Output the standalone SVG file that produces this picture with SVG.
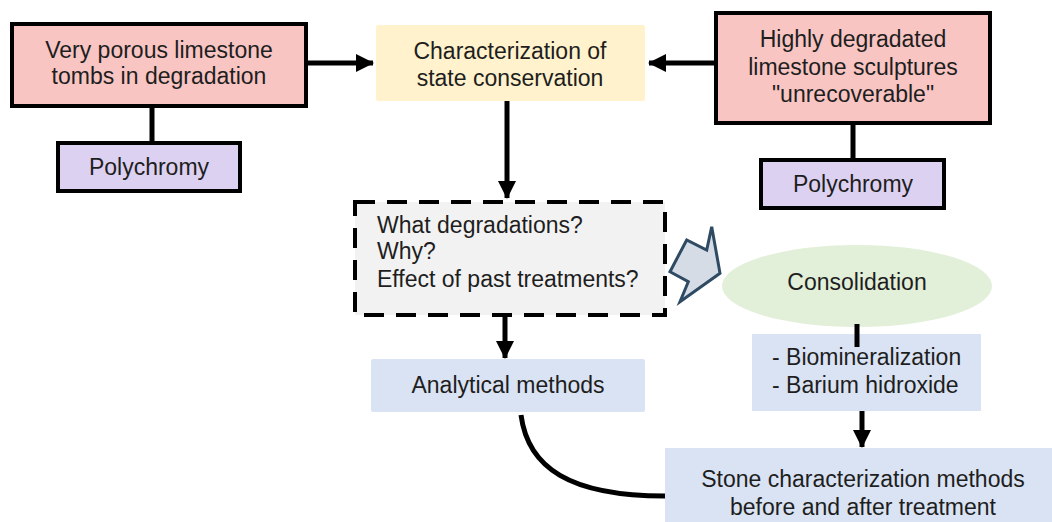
<svg xmlns="http://www.w3.org/2000/svg" width="1052" height="522" viewBox="0 0 1052 522">
<style>
text{font-family:"Liberation Sans",Arial,sans-serif;font-size:23px;fill:#1e1e1e}
.c{text-anchor:middle}
.red{fill:#f8c5c3;stroke:#000;stroke-width:4}
.pur{fill:#ddd1f1;stroke:#000;stroke-width:4}
.blue{fill:#dae3f3}
.ln{stroke:#000;stroke-width:5;fill:none}
</style>
<defs>
<marker id="ah" viewBox="0 0 18 18" refX="17" refY="9" markerWidth="18" markerHeight="18" markerUnits="userSpaceOnUse" orient="auto">
<path d="M0,0 L18,9 L0,18 Z" fill="#000"/>
</marker>
</defs>
<g id="connectors">
<line class="ln" x1="152" y1="106" x2="152" y2="143"/>
<line class="ln" x1="853" y1="123" x2="853" y2="160"/>
<line class="ln" x1="306" y1="63" x2="373" y2="63" marker-end="url(#ah)"/>
<line class="ln" x1="716" y1="63" x2="649" y2="63" marker-end="url(#ah)"/>
<line class="ln" x1="507" y1="101" x2="507" y2="198" marker-end="url(#ah)"/>
<line class="ln" x1="505" y1="315" x2="505" y2="358" marker-end="url(#ah)"/>
<line class="ln" x1="862" y1="411" x2="862" y2="447" marker-end="url(#ah)"/>
<path class="ln" d="M521,415 C528,468 570,496 665,496"/>
<polygon points="670,271.7 686.7,240 706.7,250 711.7,226.7 720,273.3 680,301.7 688.3,281.7" fill="#d6dce5" stroke="#2f4a63" stroke-width="3" stroke-linejoin="miter"/>
</g>
<g id="tombs">
<rect class="red" x="12" y="24" width="294" height="82"/>
<text class="c" x="159" y="58">Very porous limestone</text>
<text class="c" x="159" y="84">tombs in degradation</text>
</g>
<g id="poly1">
<rect class="pur" x="58" y="143" width="182" height="48"/>
<text class="c" x="149" y="175">Polychromy</text>
</g>
<g id="charstate">
<rect x="376" y="25" width="269" height="76" rx="2" fill="#fff2cc"/>
<text class="c" x="510" y="59">Characterization of</text>
<text class="c" x="510" y="86">state conservation</text>
</g>
<g id="sculptures">
<rect class="red" x="716" y="13" width="274" height="110"/>
<text class="c" x="853" y="47">Highly degradated</text>
<text class="c" x="853" y="75">limestone sculptures</text>
<text class="c" x="853" y="102">"unrecoverable"</text>
</g>
<g id="poly2">
<rect class="pur" x="761" y="160" width="183" height="48"/>
<text class="c" x="853" y="192">Polychromy</text>
</g>
<g id="questions">
<rect x="355" y="202" width="310" height="113" fill="#f2f2f2" stroke="#000" stroke-width="4" stroke-dasharray="20,12"/>
<text x="377" y="233">What degradations?</text>
<text x="377" y="259">Why?</text>
<text x="377" y="287">Effect of past treatments?</text>
</g>
<g id="consolidation">
<ellipse cx="857" cy="286" rx="135" ry="41" fill="#e2efd9"/>
<text class="c" x="857" y="290">Consolidation</text>
</g>
<g id="methods">
<rect class="blue" x="752" y="334" width="229" height="77"/>
<line class="ln" x1="857" y1="324" x2="857" y2="347"/>
<text x="772" y="365">- Biomineralization</text>
<text x="772" y="393">- Barium hidroxide</text>
</g>
<g id="analytical">
<rect class="blue" x="371" y="359" width="274" height="53" rx="2"/>
<text class="c" x="508" y="393">Analytical methods</text>
</g>
<g id="stone">
<rect class="blue" x="665" y="448" width="387" height="74"/>
<text class="c" x="863" y="487">Stone characterization methods</text>
<text class="c" x="863" y="515">before and after treatment</text>
</g>
</svg>
